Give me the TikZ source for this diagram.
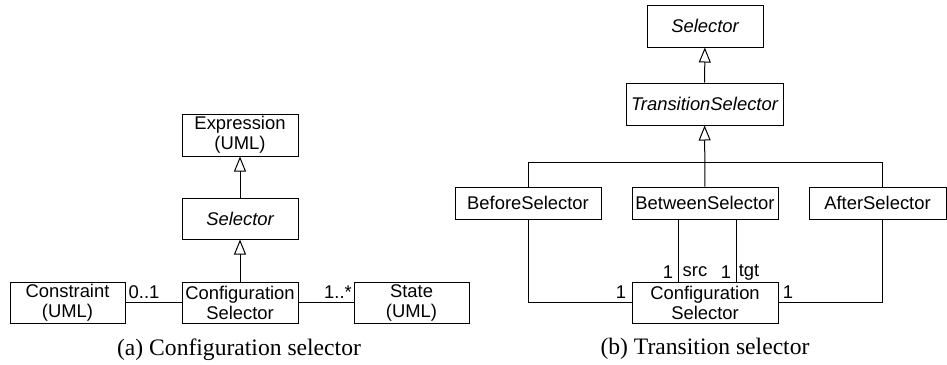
\documentclass[tikz,border=0pt]{standalone}
\usepackage{fontspec}
\setmainfont{Liberation Serif}
\setsansfont{Liberation Sans}
\usetikzlibrary{arrows.meta}
\begin{document}
\begin{tikzpicture}[x=1pt, y=-1pt,
  every node/.style={inner sep=0pt},
  umlbox/.style={draw, line width=1pt, align=center,
    font=\sffamily\fontsize{18.4}{20}\selectfont},
  mult/.style={font=\sffamily\fontsize{18.4}{20}\selectfont},
  caption/.style={font=\rmfamily\fontsize{23.6}{26}\selectfont},
  assoc/.style={line width=1pt},
  inherit/.style={line width=1pt, -{Triangle[open, length=15pt, width=12pt]}}]
\useasboundingbox (0,0) rectangle (947,364);

% (a) configuration selector
\node[umlbox, minimum width=116pt, minimum height=42pt] (expr) at (240,135) {Expression\\(UML)};
\node[umlbox, minimum width=116pt, minimum height=41pt] (selA) at (240,218.5) {\itshape Selector};
\node[umlbox, minimum width=116pt, minimum height=41pt] (cfgA) at (240,302.5) {Configuration\\Selector};
\node[umlbox, minimum width=115pt, minimum height=41pt] (constr) at (67.5,302.5) {Constraint\\(UML)};
\node[umlbox, minimum width=115pt, minimum height=41pt] (state) at (411.5,302.5) {State\\(UML)};

\draw[inherit] (selA) -- (expr);
\draw[inherit] (cfgA) -- (selA);
\draw[assoc] (constr) -- (cfgA);
\draw[assoc] (cfgA) -- (state);
\node[mult] (mConstr) at (144,292) {0..1};
\node[mult] (mState) at (338,292) {1..*};

\node[caption] (capA) at (239,350) {(a) Configuration selector};

% (b) transition selector
\node[umlbox, minimum width=116pt, minimum height=42pt] (selB) at (705,26) {\itshape Selector};
\node[umlbox, minimum width=157pt, minimum height=42pt] (trans) at (704.5,104) {\itshape TransitionSelector};
\node[umlbox, minimum width=146pt, minimum height=32pt] (before) at (528,203) {BeforeSelector};
\node[umlbox, minimum width=146pt, minimum height=32pt] (between) at (705,203) {BetweenSelector};
\node[umlbox, minimum width=137pt, minimum height=32pt] (after) at (877.5,203) {AfterSelector};
\node[umlbox, minimum width=146pt, minimum height=41pt] (cfgB) at (705,302.5) {Configuration\\Selector};

\coordinate (bus) at (528,162);
\coordinate (afterx) at (882,0);
\coordinate (srcx) at (678,0);
\coordinate (tgtx) at (736,0);

\draw[inherit] (trans) -- (selB);
\draw[inherit] (between) -- (trans);
\draw[assoc] (before.north) -- (bus) -| (after.north -| afterx);
\draw[assoc] (before.south) |- (cfgB.west);
\draw[assoc] (after.south -| afterx) |- (cfgB.east);
\draw[assoc] (between.south -| srcx) -- (cfgB.north -| srcx);
\draw[assoc] (between.south -| tgtx) -- (cfgB.north -| tgtx);

\node[mult] (mSrc) at (668,272) {1};
\node[mult] (lSrc) at (695,272) {src};
\node[mult] (mTgt) at (726,272) {1};
\node[mult] (lTgt) at (749,272) {tgt};
\node[mult] (mBefore) at (621,292) {1};
\node[mult] (mAfter) at (788,292) {1};

\node[caption] (capB) at (705,349) {(b) Transition selector};
\end{tikzpicture}
\end{document}
